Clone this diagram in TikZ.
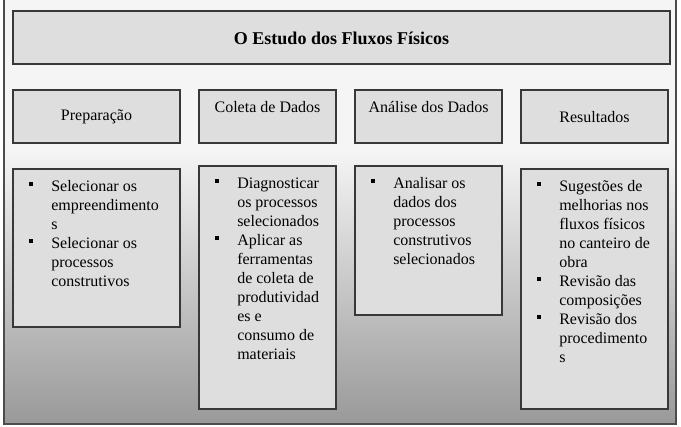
\documentclass[tikz,border=0pt]{standalone}
\usepackage{fontspec}
\setmainfont{Liberation Serif}
\usepackage{tikz}
\usetikzlibrary{positioning}

\newcommand{\blt}{\makebox[18pt][l]{\hspace*{1.5pt}\raisebox{4pt}{\rule{2.8pt}{2.8pt}}}}
\newcommand{\cont}{\hspace*{18pt}}

\begin{document}
\begin{tikzpicture}[x=0.75pt,y=-0.75pt,
    box/.style={draw=black!78,line width=1pt,fill=black!13},
    txt/.style={inner sep=0pt,font=\fontsize{12pt}{14.25pt}\selectfont},
    items/.style={txt,anchor=base west}]
    \useasboundingbox (0,0) rectangle (681,426);
    \fill[black!4] (4,-2) rectangle (676,150);
    \shade[top color=black!4,bottom color=black!40] (4,150) rectangle (676,424);
    \draw[black!70,line width=1pt] (4,-2) rectangle (676,424);
    \draw[box] (13,11) rectangle (670,64);
    \node[txt,font=\fontsize{13.5pt}{16pt}\selectfont\bfseries] (title) at (341.5,38) {O Estudo dos Fluxos Físicos};
    \draw[box] (13,90) rectangle (180,143);
    \node[txt] (prep) at (96.5,117) {Preparação};
    \draw[box] (199,90) rectangle (336,143);
    \node[txt] (coleta) at (267.5,107) {Coleta de Dados};
    \draw[box] (355,90) rectangle (502,143);
    \node[txt] (analise) at (428.5,107) {Análise dos Dados};
    \draw[box] (521,90) rectangle (668,143);
    \node[txt] (result) at (594.5,117) {Resultados};
    \draw[box] (13,169) rectangle (180,327);
    \node[items] (prepitems) at (27,191) {\parbox[t]{130pt}{\blt Selecionar os\\
      \cont empreendimento\\ \cont s\\
      \blt Selecionar os\\ \cont processos\\ \cont construtivos}};
    \draw[box] (199,166) rectangle (336,409);
    \node[items] (coletaitems) at (213,188) {\parbox[t]{100pt}{\blt Diagnosticar\\
      \cont os processos\\ \cont selecionados\\
      \blt Aplicar as\\ \cont ferramentas\\ \cont de coleta de\\ \cont produtividad\\
      \cont es e\\ \cont consumo de\\ \cont materiais}};
    \draw[box] (355,166) rectangle (502,315);
    \node[items] (analiseitems) at (369,188) {\parbox[t]{110pt}{\blt Analisar os\\
      \cont dados dos\\ \cont processos\\ \cont construtivos\\ \cont selecionados}};
    \draw[box] (521,169) rectangle (668,409);
    \node[items] (resultitems) at (535,191) {\parbox[t]{110pt}{\blt Sugestões de\\
      \cont melhorias nos\\ \cont fluxos físicos\\ \cont no canteiro de\\ \cont obra\\
      \blt Revisão das\\ \cont composições\\
      \blt Revisão dos\\ \cont procedimento\\ \cont s}};
  \end{tikzpicture}
\end{document}
